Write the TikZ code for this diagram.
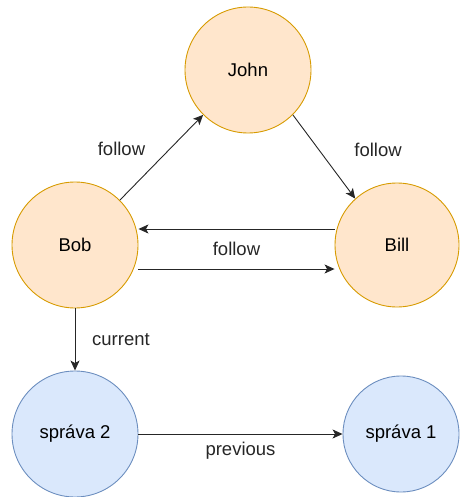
\documentclass[tikz,border=0pt]{standalone}
\usepackage{fontspec}
\setmainfont{Liberation Sans}
\usetikzlibrary{arrows.meta}

\definecolor{userfill}{HTML}{FFE6CC}
\definecolor{userline}{HTML}{D79B00}
\definecolor{msgfill}{HTML}{DAE8FC}
\definecolor{msgline}{HTML}{6C8EBF}

\begin{document}
\begin{tikzpicture}[x=1pt, y=-1pt, font=\fontsize{18.5}{22}\selectfont,
  user/.style={draw=userline, fill=userfill, circle, line width=0.9pt, minimum size=126pt},
  msg/.style={draw=msgline, fill=msgfill, circle, line width=0.9pt, minimum size=126pt},
  link/.style={-{Stealth[length=10pt, width=9pt, inset=2.5pt]}, line width=0.9pt, black!85}]

\useasboundingbox (0,0) rectangle (459,497);

\node[user] (john) at (248,70) {John};
\node[user] (bob) at (75,245) {Bob};
\node[user, minimum size=124pt] (bill) at (397,245) {Bill};
\node[msg] (msg2) at (75,434) {spr\'ava 2};
\node[msg, minimum size=116pt] (msg1) at (401,434) {spr\'ava 1};

\draw[link] (bob.45) -- (john.225) node[midway, xshift=-40pt, yshift=9pt] {follow};
\draw[link] (john.-45) -- (bill.132) node[midway, xshift=54pt, yshift=7pt] {follow};
\draw[link] ([yshift=16pt]bill.west) -- ([yshift=16pt]bob.east) node[midway, yshift=-20pt] {follow};
\draw[link] ([yshift=-24pt]bob.east) -- ([yshift=-24pt]bill.west);
\draw[link] (bob) -- (msg2) node[midway, xshift=46pt] {current};
\draw[link] (msg2) -- (msg1) node[midway, yshift=-17pt] {previous};

\end{tikzpicture}
\end{document}
